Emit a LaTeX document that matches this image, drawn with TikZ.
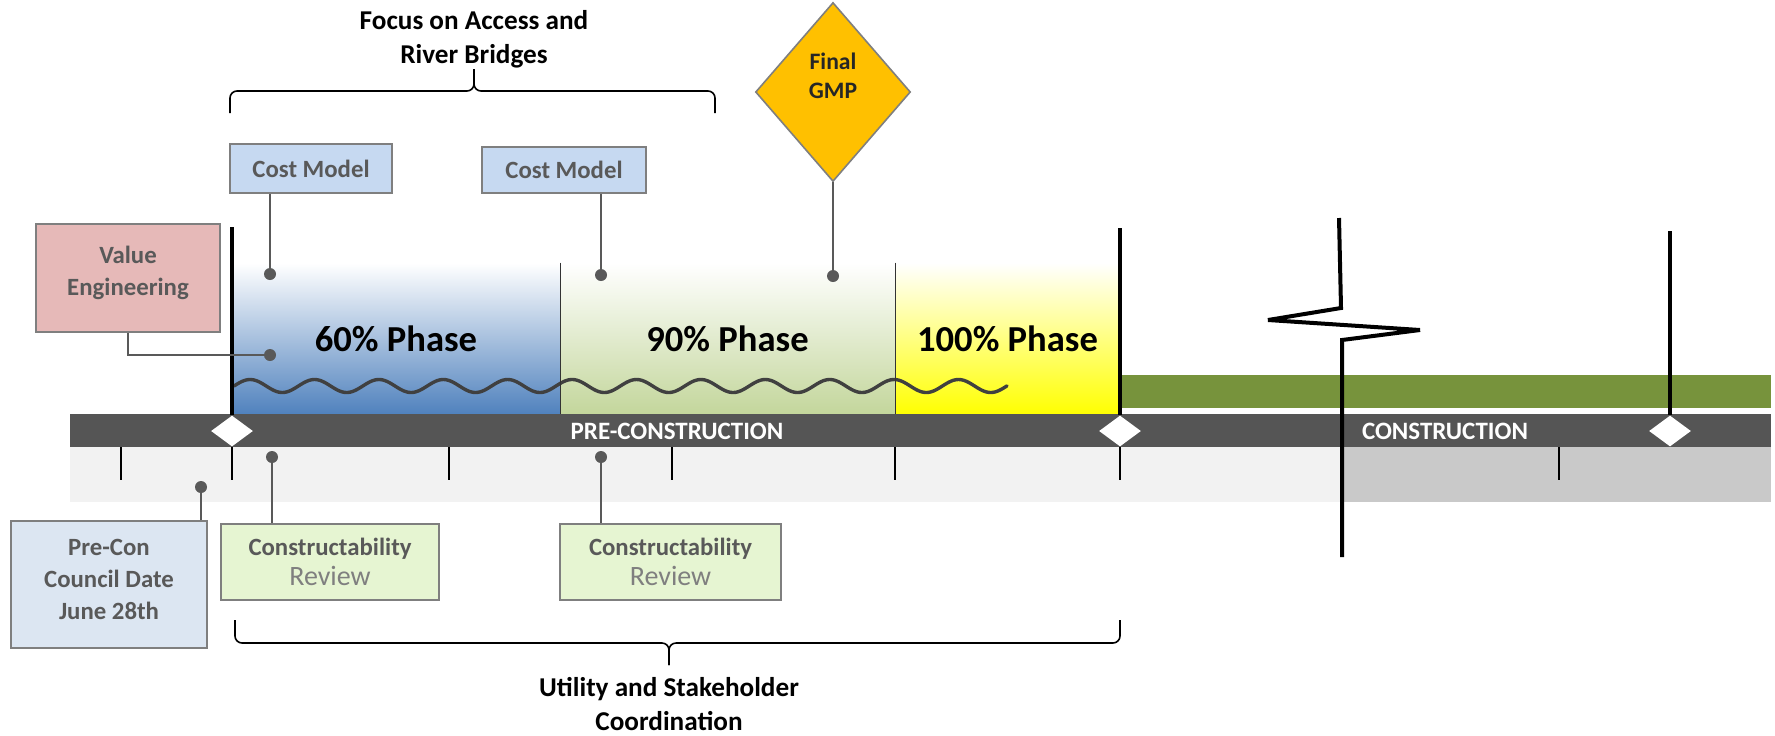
\documentclass[tikz,border=0pt]{standalone}
\usepackage{fontspec}
\setmainfont{Carlito}
\usetikzlibrary{positioning, shapes.geometric, calc}
\pgfdeclarelayer{background}
\pgfsetlayers{background,main}
\definecolor{bargray}{HTML}{555555}
\definecolor{bandlight}{HTML}{F2F2F2}
\definecolor{banddark}{HTML}{C9C9C9}
\definecolor{conolive}{HTML}{77933C}
\definecolor{phaseblue}{HTML}{4F81BD}
\definecolor{phasegreen}{HTML}{C3D69B}
\definecolor{phaseyellow}{HTML}{FFFF00}
\definecolor{costblue}{HTML}{C6D9F1}
\definecolor{vepink}{HTML}{E6B9B8}
\definecolor{preconblue}{HTML}{DCE6F2}
\definecolor{reviewgreen}{HTML}{E6F5D2}
\definecolor{gmpgold}{HTML}{FFC000}
\definecolor{boxline}{HTML}{7F7F7F}
\definecolor{labelgray}{HTML}{595959}
\definecolor{lightlabel}{HTML}{7F7F7F}
\definecolor{wavegray}{HTML}{404040}
\tikzset{
    labelbox/.style={draw=boxline, line width=0.9pt, text=labelgray, align=center, inner sep=0pt,
        font=\bfseries\fontsize{12.4}{16}\selectfont},
    costbox/.style={labelbox, fill=costblue, minimum width=81pt, minimum height=24.5pt},
    vebox/.style={labelbox, fill=vepink, minimum width=92pt, minimum height=54pt, text depth=7pt},
    preconbox/.style={labelbox, fill=preconblue, minimum width=98pt, minimum height=63.5pt, text depth=5pt},
    reviewbox/.style={labelbox, fill=reviewgreen, minimum width=109pt, minimum height=38pt,
        font=\bfseries\fontsize{12.4}{15.3}\selectfont},
    gmp/.style={diamond, draw=boxline, line width=0.8pt, fill=gmpgold, minimum width=77.5pt, minimum height=89.5pt,
        inner sep=0pt, align=center, text=black!85, text depth=16.5pt, font=\bfseries\fontsize{11.8}{14.5}\selectfont},
    phase/.style={minimum height=76pt, inner sep=0pt, top color=white, font=\bfseries\fontsize{18.3}{20}\selectfont},
    milestone/.style={diamond, fill=white, minimum width=21pt, minimum height=15.5pt, inner sep=0pt},
    pin/.style={circle, fill=labelgray, minimum size=6pt, inner sep=0pt},
    conn/.style={draw=labelgray, line width=1pt},
    tick/.style={line width=1pt},
    gate/.style={line width=2pt},
    divider/.style={line width=0.9pt, draw=black!80},
    bracket/.style={line width=0.8pt, rounded corners=3.5pt},
    heading/.style={align=center, font=\bfseries\fontsize{13.6}{17}\selectfont},
    bartext/.style={text=white, font=\bfseries\fontsize{12.5}{14}\selectfont},
}
\newcommand{\reviewline}{{\mdseries\color{lightlabel}\fontsize{14}{15}\selectfont Review}}

\begin{document}
\begin{tikzpicture}[x=0.5pt, y=-0.5pt]
    \useasboundingbox (0,0) rectangle (1775,735);

    % phases
    \node[phase, bottom color=phaseblue, minimum width=164pt] (ph60) at (396,339) {60\% Phase};
    \node[phase, bottom color=phasegreen, minimum width=167.5pt] (ph90) at (727.5,339) {90\% Phase};
    \node[phase, bottom color=phaseyellow, minimum width=112.5pt] (ph100) at (1007.5,339) {100\% Phase};
    \draw[wavegray, line width=1.7pt, line cap=round] plot[domain=0:773, samples=400]
        ({234+\x}, {386-6.5*sin(\x/64.4*360)});
    \draw[divider] (ph60.north east) -- (ph60.south east);
    \draw[divider] (ph90.north east) -- (ph90.south east);

    % timeline
    \fill[conolive] (1120,375) rectangle (1771,408);
    \fill[bargray] (70,414) rectangle (1771,447);
    \fill[bandlight] (70,447) rectangle (1343,502);
    \fill[banddark] (1343,447) rectangle (1771,502);
    \foreach \x in {121,232,449,672,895,1120,1559}
        \draw[tick] (\x,447) -- (\x,480);
    \node[bartext] (pre) at (677,431) {PRE-CONSTRUCTION};
    \node[bartext] (con) at (1445,431) {CONSTRUCTION};

    \node[milestone] (m1) at (232,431) {};
    \node[milestone] (m2) at (1120,431) {};
    \node[milestone] (m3) at (1670,431) {};
    \coordinate (g1) at (232,227);
    \coordinate (g2) at (1120,228);
    \coordinate (g3) at (1670,231);
    \draw[gate] (g1) -- (m1.north);
    \draw[gate] (g2) -- (m2.north);
    \draw[gate] (g3) -- (m3.north);

    % labels above
    \node[costbox] (cm1) at (311,168.5) {Cost Model};
    \node[costbox, minimum width=82pt, minimum height=23pt] (cm2) at (564,170) {Cost Model};
    \node[gmp] (gmp) at (833,92) {Final\\GMP};
    \node[vebox] (ve) at (128,278) {Value\\Engineering};

    \node[pin] (p1) at (270,274) {};
    \node[pin] (p2) at (270,355) {};
    \node[pin] (p3) at (601,275) {};
    \node[pin] (p4) at (833,276) {};
    \draw[conn] (cm1.south -| p1) -- (p1);
    \draw[conn] (ve.south) |- (p2);
    \draw[conn] (cm2.south -| p3) -- (p3);
    \draw[conn] (gmp.south) -- (p4);

    % labels below
    \node[preconbox] (pc) at (109,584.5) {Pre-Con\\Council Date\\June 28th};
    \node[reviewbox] (cr1) at (330,562) {Constructability\\\reviewline};
    \node[reviewbox, minimum width=110.5pt] (cr2) at (670.5,562) {Constructability\\\reviewline};

    \node[pin] (p5) at (272,457) {};
    \node[pin] (p6) at (601,457) {};
    \node[pin] (p7) at (201,487) {};
    \draw[conn] (cr1.north -| p5) -- (p5);
    \draw[conn] (cr2.north -| p6) -- (p6);
    \draw[conn] (pc.north -| p7) -- (p7);

    % braces
    \coordinate (fa) at (230,113);
    \coordinate (fb) at (715,113);
    \coordinate (fm) at (474,91);
    \coordinate (ftip) at (474,69);
    \draw[bracket] (fa) |- (fm) -- (ftip);
    \draw[bracket] (fb) |- (fm) -- (ftip);
    \node[heading] (focus) at (474,39) {Focus on Access and\\River Bridges};
    \coordinate (ua) at (235,620);
    \coordinate (ub) at (1120,620);
    \coordinate (um) at (669,643);
    \coordinate (utip) at (669,665);
    \draw[bracket] (ua) |- (um) -- (utip);
    \draw[bracket] (ub) |- (um) -- (utip);
    \node[heading] (util) at (669,704) {Utility and Stakeholder\\Coordination};

    % break
    \draw[gate, line join=miter, miter limit=2] (1339,218) -- (1341,308) -- (1268,320) -- (1420,330) -- (1342,340) -- (1342,557);
\end{tikzpicture}
\end{document}
